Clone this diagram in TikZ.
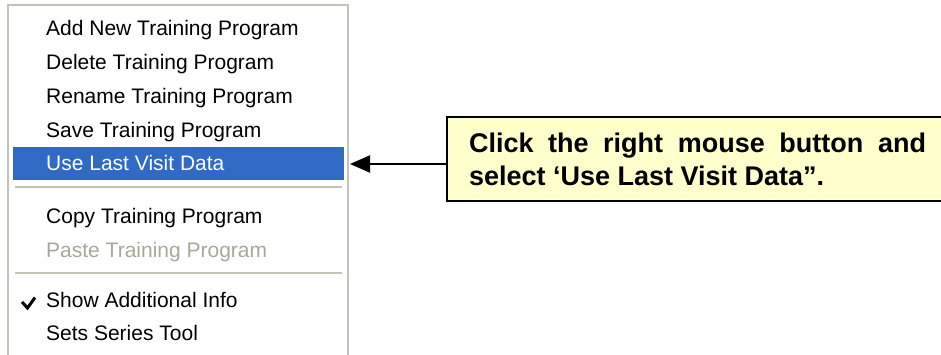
\documentclass[tikz,border=0pt]{standalone}
\usepackage{fontspec}
\setmainfont{Liberation Sans}
\usetikzlibrary{positioning,arrows.meta,calc}
\definecolor{xpblue}{RGB}{49,106,197}
\definecolor{xpgrey}{RGB}{172,168,153}
\definecolor{xpline}{RGB}{197,194,184}
\definecolor{noteyellow}{RGB}{255,255,204}

\begin{document}
\begin{tikzpicture}[x=1pt, y=-1pt]
      \tikzset{
	  menuitem/.style={anchor=base west, inner sep=0pt, font=\fontsize{21}{25}\selectfont, text=black},
	  greyeditem/.style={menuitem, text=xpgrey},
	  selitem/.style={menuitem, text=white},
	  separator/.style={draw=xpline, line width=2pt},
	  notebox/.style={rectangle, draw=black, line width=2pt, fill=noteyellow, anchor=north west, text width=457pt, align=justify, inner xsep=22pt, inner ysep=0pt, minimum height=84pt, font=\bfseries\fontsize{27}{33}\selectfont}
      }
      \useasboundingbox (0,0) rectangle (941,354);
      \fill[white] (0,0) rectangle (941,354);

      % menu frame
      \draw[xpline, line width=2.5pt] (8,360) -- (8,5) -- (348,5) -- (348,360);
      \node at (13,147) [anchor=north west, fill=xpblue, inner sep=0pt, minimum width=331pt, minimum height=33pt] (hl) {};

      \node at (46,35) [menuitem] (add) {Add New Training Program};
      \node at (46,69) [menuitem] (del) {Delete Training Program};
      \node at (46,103) [menuitem] (ren) {Rename Training Program};
      \node at (46,137) [menuitem] (save) {Save Training Program};
      \node at (46,170) [selitem] (use) {Use Last Visit Data};
      \draw[separator] (15,187) -- (342,187);
      \node at (46,223) [menuitem] (copy) {Copy Training Program};
      \node at (46,257) [greyeditem] (paste) {Paste Training Program};
      \draw[separator] (15,273) -- (342,273);
      \node at (46,307) [menuitem] (show) {Show Additional Info};
      \node at (46,340) [menuitem] (sets) {Sets Series Tool};
      \draw[line width=3pt] (22,302) -- (27.5,308) -- (35,297.5);

      % callout
      \node at (446,116) [notebox] (note) {\hyphenpenalty=10000 Click the right mouse button and\linebreak select ‘Use Last Visit Data”.};
      \coordinate (arrowtip) at (350,164);
      \draw[-{Triangle[length=20pt,width=17pt]}, line width=2pt] (note.west |- arrowtip) -- (arrowtip);
\end{tikzpicture}
\end{document}
